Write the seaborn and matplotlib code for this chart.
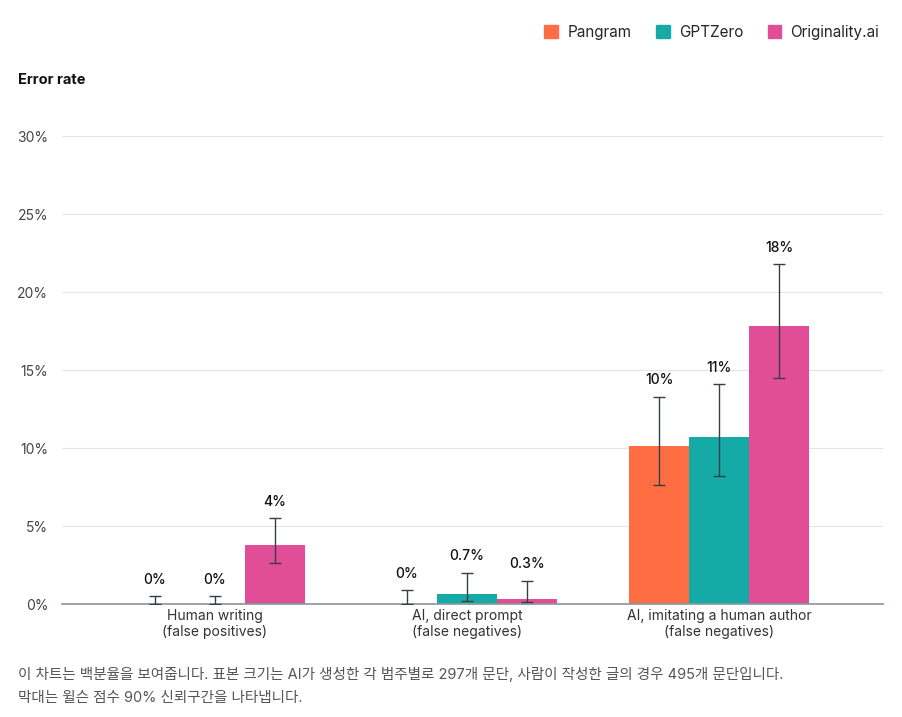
import numpy as np
import pandas as pd
import matplotlib
matplotlib.use("Agg")
import matplotlib.pyplot as plt
import seaborn as sns

categories = ["Human writing\n(false positives)", "AI, direct prompt\n(false negatives)",
              "AI, imitating a human author\n(false negatives)"]
detectors = ["Pangram", "GPTZero", "Originality.ai"]
values = {
    "Pangram": [0.0, 0.0, 10.1],
    "GPTZero": [0.0, 0.65, 10.7],
    "Originality.ai": [3.8, 0.3, 17.8],
}
ci_low = {
    "Pangram": [0.0, 0.0, 7.6],
    "GPTZero": [0.0, 0.2, 8.2],
    "Originality.ai": [2.6, 0.1, 14.5],
}
ci_high = {
    "Pangram": [0.5, 0.9, 13.3],
    "GPTZero": [0.5, 2.0, 14.1],
    "Originality.ai": [5.5, 1.5, 21.8],
}
labels = {
    "Pangram": ["0%", "0%", "10%"],
    "GPTZero": ["0%", "0.7%", "11%"],
    "Originality.ai": ["4%", "0.3%", "18%"],
}
colors = ["#ff6e42", "#16aaa6", "#e24d98"]

rows = []
for d in detectors:
    for i, c in enumerate(categories):
        rows.append({"category": c, "detector": d, "value": values[d][i]})
df = pd.DataFrame(rows)

sns.set_theme(style="white")
plt.rcParams["font.family"] = ["Inter", "Noto Sans CJK KR", "DejaVu Sans"]

fig = plt.figure(figsize=(9.02, 7.17), dpi=100)
ax = fig.add_axes([62 / 902, 1 - 604 / 717, (883 - 62) / 902, (604 - 136) / 717])
sns.barplot(data=df, x="category", y="value", hue="detector", hue_order=detectors,
            palette=colors, width=0.714, errorbar=None, saturation=1, linewidth=0,
            ax=ax, zorder=2)

for j, d in enumerate(detectors):
    cont = ax.containers[j]
    for i, p in enumerate(cont.patches):
        x = p.get_x() + p.get_width() / 2
        v = values[d][i]
        ax.errorbar(x, v, yerr=[[v - ci_low[d][i]], [ci_high[d][i] - v]],
                    fmt="none", ecolor="#333f48", elinewidth=1, capsize=4, zorder=3)
        ax.text(x, ci_high[d][i] + 0.6, labels[d][i], ha="center", va="bottom",
                fontsize=10, fontweight="medium", color="#111111")

ax.set_ylim(0, 30)
ax.set_xlim(-0.607, 2.65)
ax.set_yticks(range(0, 31, 5))
ax.set_yticklabels([f"{t}%" for t in range(0, 31, 5)], fontsize=10, color="#444444")
ax.tick_params(axis="y", length=6, color="#888888", width=0.8, pad=4)
ax.tick_params(axis="x", labelsize=10, colors="#333333", length=0)
ax.yaxis.grid(True, color="#dfe8e6", linewidth=0.8, zorder=0)
ax.set_xlabel("")
ax.set_ylabel("")
for s in ["top", "right", "left"]:
    ax.spines[s].set_visible(False)
ax.spines["bottom"].set_color("#8a9a9a")

ax.legend_.remove()
handles = [plt.Rectangle((0, 0), 1, 1, color=c) for c in colors]
fig.legend(handles, detectors, loc="upper right", bbox_to_anchor=(0.99, 0.985), ncol=3,
           frameon=False, fontsize=11, handlelength=0.9, handleheight=0.9,
           columnspacing=1.6, handletextpad=0.6)

fig.text(18 / 902, 1 - 80 / 717, "Error rate", fontsize=10.5, fontweight="bold",
         va="center", color="#111111")
fig.text(18 / 902, 1 - 674 / 717,
         "이 차트는 백분율을 보여줍니다. 표본 크기는 AI가 생성한 각 범주별로 297개 문단, 사람이 작성한 글의 경우 495개 문단입니다.",
         fontsize=10.5, va="center", color="#555555")
fig.text(18 / 902, 1 - 698 / 717, "막대는 윌슨 점수 90% 신뢰구간을 나타냅니다.",
         fontsize=10.5, va="center", color="#555555")

fig.savefig("out.png", dpi=100)
